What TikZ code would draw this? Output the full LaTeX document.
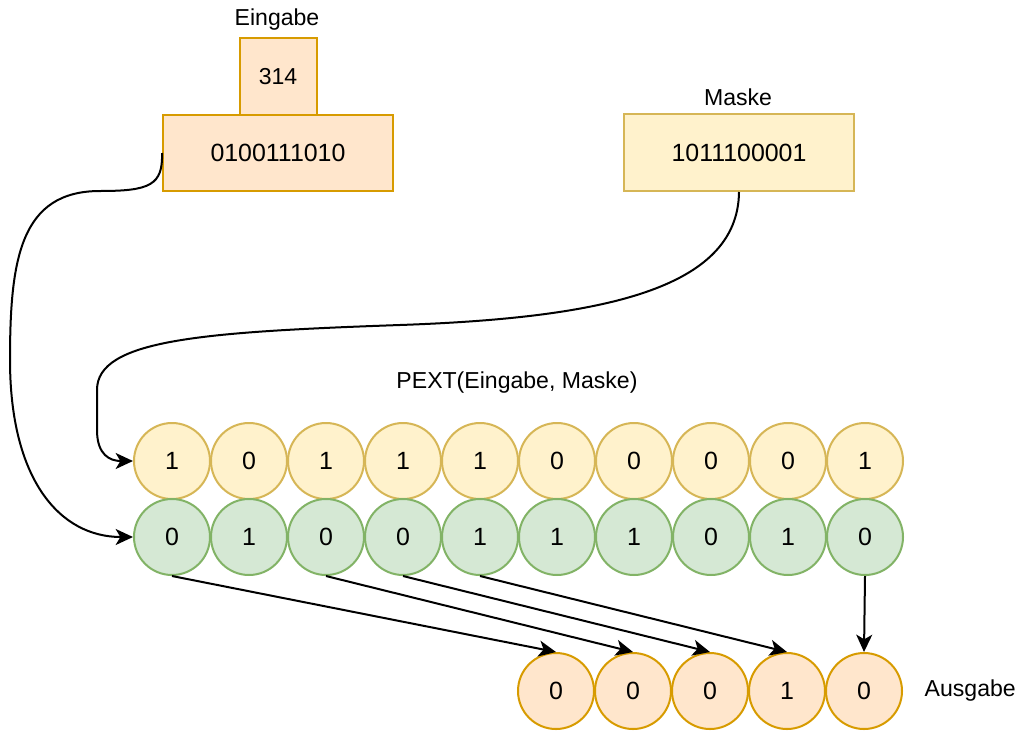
\documentclass[tikz,border=0pt]{standalone}
\usepackage{fontspec}
\setmainfont{Liberation Sans}
\usepackage{tikz}
\usetikzlibrary{arrows.meta, positioning}
\definecolor{peachfill}{HTML}{FFE6CC}
\definecolor{peachline}{HTML}{D79B00}
\definecolor{gelbfill}{HTML}{FFF2CC}
\definecolor{gelbline}{HTML}{D6B656}
\definecolor{gruenfill}{HTML}{D5E8D4}
\definecolor{gruenline}{HTML}{82B366}

\begin{document}
\begin{tikzpicture}[x=0.75pt, y=-0.75pt,
    label/.style={font=\fontsize{17.3}{20}\selectfont},
    feld/.style={rectangle, inner sep=0pt, line width=1.5pt, font=\fontsize{18.7}{22}\selectfont},
    bit/.style={circle, minimum size=57pt, inner sep=0pt, line width=1.5pt, font=\fontsize{18.7}{22}\selectfont},
    maskbit/.style={bit, fill=gelbfill, draw=gelbline},
    eingbit/.style={bit, fill=gruenfill, draw=gruenline},
    ausgbit/.style={bit, fill=peachfill, draw=peachline},
    pfeil/.style={line width=1.5pt, -{Stealth[length=13pt, width=12pt, inset=3.5pt]}}]
    \useasboundingbox (0,0) rectangle (1020,732);

    % Eingabe
    \node[label] (eingabe) at (277,20) {Eingabe};
    \node[feld, fill=peachfill, draw=peachline, minimum width=57.75pt, minimum height=57.75pt, font=\fontsize{17.3}{20}\selectfont] (dez) at (278,76.5) {314};
    \node[feld, fill=peachfill, draw=peachline, minimum width=172.5pt, minimum height=57pt] (bin) at (278,153) {0100111010};

    % Maske
    \node[label] (maske) at (738,97) {Maske};
    \node[feld, fill=gelbfill, draw=gelbline, minimum width=172.5pt, minimum height=57.75pt] (maskbin) at (739,152.5) {1011100001};

    % PEXT
    \node[label] (pext) at (517,383) {PEXT(Eingabe, Maske)};
    \foreach \b [count=\i from 0] in {1,0,1,1,1,0,0,0,0,1}
        \node[maskbit] (m\i) at (172+77*\i,461) {\b};
    \foreach \b [count=\i from 0] in {0,1,0,0,1,1,1,0,1,0}
        \node[eingbit] (e\i) at (172+77*\i,537) {\b};

    % Ausgabe
    \foreach \b [count=\i from 0] in {0,0,0,1,0}
        \node[ausgbit] (a\i) at (556+77*\i,691) {\b};
    \node[label, anchor=west] (ausgabe) at (920,691) {Ausgabe};

    % Verbindungen
    \draw[pfeil] (bin.west) .. controls (163,185) and (150,191) .. (100,191)
        .. controls (20,191) and (10,260) .. (10,360)
        .. controls (10,480) and (60,537) .. (e0.west);
    \draw[pfeil] (maskbin.south) .. controls (738,290) and (600,318) .. (400,325)
        .. controls (200,332) and (97,340) .. (97,390) -- (97,430)
        .. controls (97,455) and (110,461) .. (m0.west);
    \foreach \s/\t in {0/0, 2/1, 3/2, 4/3, 9/4}
        \draw[pfeil] (e\s.south) -- (a\t.north);
\end{tikzpicture}
\end{document}
